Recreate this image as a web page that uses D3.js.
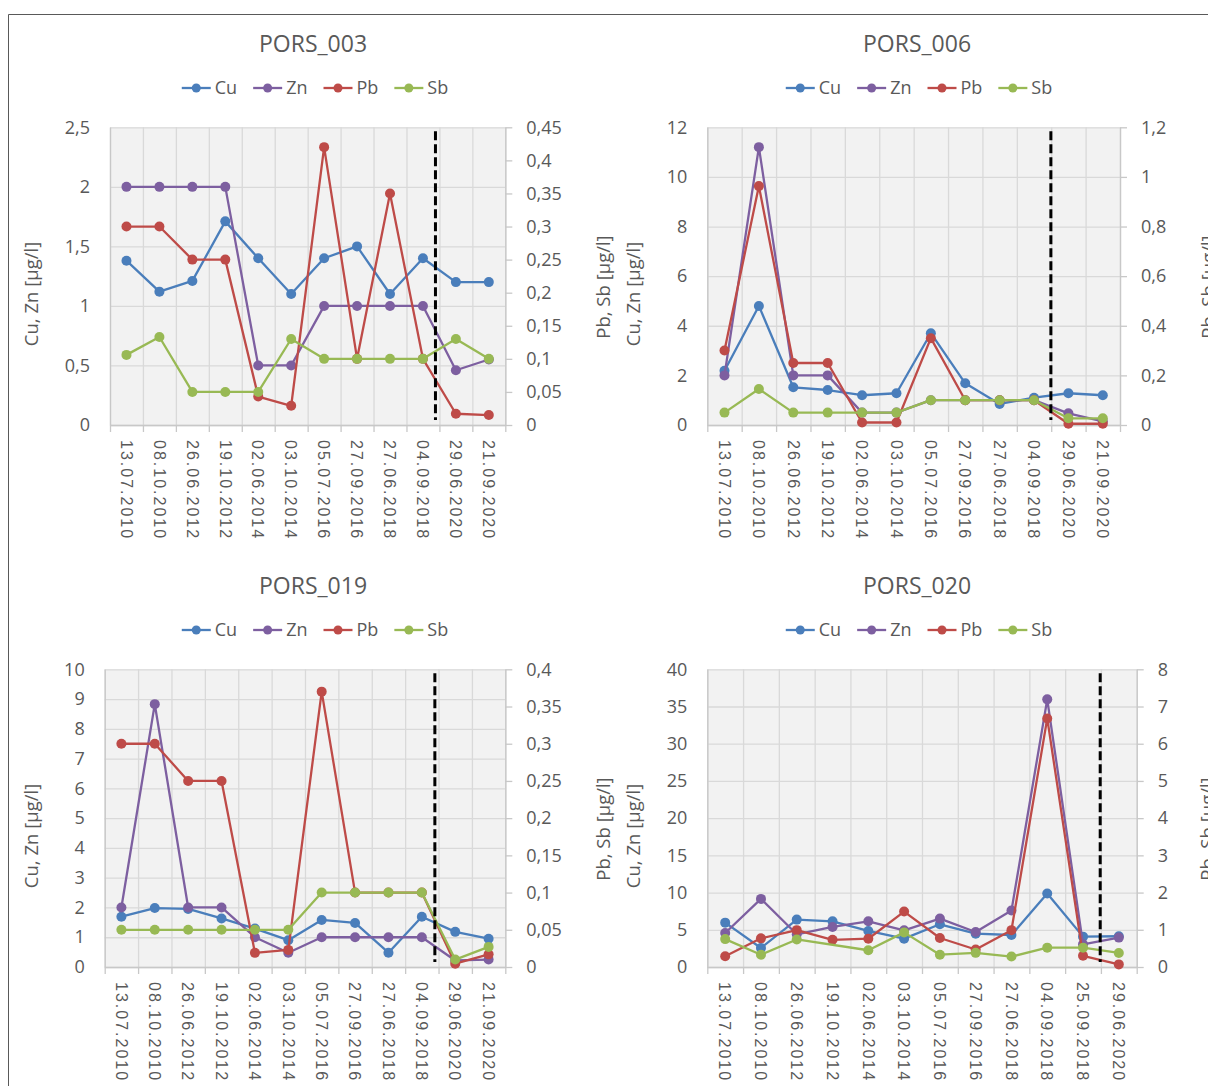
<!DOCTYPE html>
<html>
<head>
<meta charset="utf-8">
<script src="https://cdn.jsdelivr.net/npm/d3@7"></script>
<style>
  body { margin: 0; background: #fff; }
  svg text { font-family: "Open Sans", sans-serif; fill: #595959; }
</style>
</head>
<body>
<svg id="chart" width="1208" height="1086"></svg>
<script>
// sampling dates
const dates = ['13.07.2010', '08.10.2010', '26.06.2012', '19.10.2012', '02.06.2014', '03.10.2014',
  '05.07.2016', '27.09.2016', '27.06.2018', '04.09.2018', '29.06.2020', '21.09.2020']
const dates020 = ['13.07.2010', '08.10.2010', '26.06.2012', '19.10.2012', '02.06.2014', '03.10.2014',
  '05.07.2016', '27.09.2016', '27.06.2018', '04.09.2018', '25.09.2018', '29.06.2020']

const elements = ['Cu', 'Zn', 'Pb', 'Sb']
const colors = ['#4a7ebb', '#7d5fa0', '#be4b48', '#98b954']

// PORS_003
const cu003 = [1.38, 1.12, 1.21, 1.71, 1.4, 1.1, 1.4, 1.5, 1.1, 1.4, 1.2, 1.2]
const zn003 = [2, 2, 2, 2, 0.5, 0.5, 1, 1, 1, 1, 0.46, 0.55]
const pb003 = [0.3, 0.3, 0.25, 0.25, 0.043, 0.029, 0.42, 0.1, 0.35, 0.1, 0.017, 0.015]
const sb003 = [0.106, 0.133, 0.05, 0.05, 0.05, 0.13, 0.1, 0.1, 0.1, 0.1, 0.13, 0.1]

// PORS_006
const cu006 = [2.19, 4.8, 1.52, 1.41, 1.2, 1.28, 3.7, 1.68, 0.85, 1.1, 1.28, 1.2]
const zn006 = [2, 11.2, 2, 2, 0.5, 0.5, 1, 1, 1, 1, 0.47, 0.15]
const pb006 = [0.3, 0.963, 0.25, 0.25, 0.01, 0.01, 0.35, 0.1, 0.1, 0.1, 0.005, 0.005]
const sb006 = [0.05, 0.145, 0.05, 0.05, 0.05, 0.05, 0.1, 0.1, 0.1, 0.1, 0.027, 0.027]

// PORS_019
const cu019 = [1.69, 1.98, 1.95, 1.63, 1.29, 0.9, 1.58, 1.48, 0.48, 1.69, 1.18, 0.95]
const zn019 = [2, 8.83, 2, 2, 1, 0.48, 1, 1, 1, 1, 0.22, 0.25]
const pb019 = [0.3, 0.3, 0.25, 0.25, 0.019, 0.023, 0.37, 0.1, 0.1, 0.1, 0.0045, 0.017]
const sb019 = [0.05, 0.05, 0.05, 0.05, 0.05, 0.05, 0.1, 0.1, 0.1, 0.1, 0.01, 0.027]

// PORS_020 (Sb missing on 19.10.2012)
const cu020 = [5.96, 2.56, 6.37, 6.14, 4.84, 3.81, 5.74, 4.48, 4.3, 9.87, 4.08, 4.13]
const zn020 = [4.57, 9.15, 4.4, 5.38, 6.14, 4.93, 6.5, 4.7, 7.58, 35.96, 3.05, 3.95]
const pb020 = [0.29, 0.77, 0.99, 0.73, 0.76, 1.49, 0.78, 0.47, 0.99, 6.68, 0.3, 0.07]
const sb020 = [0.75, 0.33, 0.74, null, 0.45, 0.93, 0.33, 0.38, 0.28, 0.52, 0.52, 0.377]

// axis ticks
const left003 = [0, 0.5, 1, 1.5, 2, 2.5]
const right003 = [0, 0.05, 0.1, 0.15, 0.2, 0.25, 0.3, 0.35, 0.4, 0.45]
const left006 = [0, 2, 4, 6, 8, 10, 12]
const right006 = [0, 0.2, 0.4, 0.6, 0.8, 1, 1.2]
const left019 = [0, 1, 2, 3, 4, 5, 6, 7, 8, 9, 10]
const right019 = [0, 0.05, 0.1, 0.15, 0.2, 0.25, 0.3, 0.35, 0.4]
const left020 = [0, 5, 10, 15, 20, 25, 30, 35, 40]
const right020 = [0, 1, 2, 3, 4, 5, 6, 7, 8]

const panels = [
  {title: 'PORS_003', cats: dates, series: [cu003, zn003, pb003, sb003], left: left003, right: right003,
   cx: 313, row: 0, plotL: 110, plotR: 505.3, cut: 9.88, leftTitleX: 32, rightTitleX: 604},
  {title: 'PORS_006', cats: dates, series: [cu006, zn006, pb006, sb006], left: left006, right: right006,
   cx: 917, row: 0, plotL: 707.3, plotR: 1120, cut: 9.99, leftTitleX: 634, rightTitleX: 1209},
  {title: 'PORS_019', cats: dates, series: [cu019, zn019, pb019, sb019], left: left019, right: right019,
   cx: 313, row: 1, plotL: 104.7, plotR: 505.3, cut: 9.89, leftTitleX: 32, rightTitleX: 604},
  {title: 'PORS_020', cats: dates020, series: [cu020, zn020, pb020, sb020], left: left020, right: right020,
   cx: 917, row: 1, plotL: 707.3, plotR: 1136.7, cut: 10.98, leftTitleX: 634, rightTitleX: 1208},
]

const rowStep = 542
const fmt = v => String(+v.toFixed(2)).replace('.', ',')

const svg = d3.select('#chart')

// outer frame (only top and left edges are visible in the crop)
svg.append('path')
  .attr('d', 'M8.5,1086 V14.5 H1208')
  .attr('fill', 'none')
  .attr('stroke', '#595959')
  .attr('stroke-width', 1)

panels.forEach(p => drawPanel(p))

function drawPanel(p) {
  let dy = p.row * rowStep
  let top = 127.3 + dy
  let bottom = 425 + dy
  let n = p.cats.length
  let g = svg.append('g')

  let x = d3.scaleBand().domain(d3.range(n)).range([p.plotL, p.plotR])
  let xEdge = d3.scaleLinear().domain([0, n]).range([p.plotL, p.plotR])
  let yL = d3.scaleLinear().domain([0, d3.max(p.left)]).range([bottom, top])
  let yR = d3.scaleLinear().domain([0, d3.max(p.right)]).range([bottom, top])

  // plot background
  g.append('rect')
    .attr('x', p.plotL).attr('y', top)
    .attr('width', p.plotR - p.plotL).attr('height', bottom - top)
    .attr('fill', '#f2f2f2')

  // horizontal gridlines
  g.append('g')
    .attr('transform', `translate(${p.plotL},0)`)
    .call(d3.axisLeft(yL).tickValues(p.left).tickSize(-(p.plotR - p.plotL)).tickFormat(''))
    .call(a => a.select('.domain').remove())
    .call(a => a.selectAll('line').attr('stroke', '#d9d9d9').attr('stroke-width', 1.3))

  // vertical gridlines
  g.append('g')
    .attr('transform', `translate(0,${bottom})`)
    .call(d3.axisBottom(xEdge).tickValues(d3.range(n + 1)).tickSize(-(bottom - top)).tickFormat(''))
    .call(a => a.select('.domain').remove())
    .call(a => a.selectAll('line').attr('stroke', '#d9d9d9').attr('stroke-width', 1.3))

  // bottom axis line + outer ticks
  g.append('g')
    .attr('transform', `translate(0,${bottom})`)
    .call(d3.axisBottom(xEdge).tickValues(d3.range(n + 1)).tickSize(7).tickSizeOuter(0).tickFormat(''))
    .call(a => a.selectAll('line, .domain').attr('stroke', '#c8c8c8').attr('stroke-width', 1.3))

  // category labels
  g.append('g')
    .attr('transform', `translate(0,${bottom})`)
    .call(d3.axisBottom(x).tickSize(0).tickFormat(i => p.cats[i]))
    .call(a => a.select('.domain').remove())
    .call(a => a.selectAll('text')
      .attr('transform', 'rotate(90)')
      .attr('x', 15).attr('y', 0).attr('dy', '0.36em')
      .style('text-anchor', 'start')
      .style('font-family', '"Liberation Sans", Arial, sans-serif')
      .style('font-size', '16px')
      .style('letter-spacing', '2px')
      .attr('fill', '#595959'))

  // left axis labels
  g.append('g')
    .attr('transform', `translate(${p.plotL},0)`)
    .call(d3.axisLeft(yL).tickValues(p.left).tickSize(0).tickPadding(20).tickFormat(fmt))
    .call(a => a.select('.domain').attr('stroke', '#c8c8c8').attr('stroke-width', 1.3))
    .call(a => a.selectAll('text').style('font-size', '18px').attr('fill', '#595959'))

  // right axis
  g.append('g')
    .attr('transform', `translate(${p.plotR},0)`)
    .call(d3.axisRight(yR).tickValues(p.right).tickSize(7).tickSizeOuter(0).tickPadding(14).tickFormat(fmt))
    .call(a => a.selectAll('line, .domain').attr('stroke', '#c8c8c8').attr('stroke-width', 1.3))
    .call(a => a.selectAll('text').style('font-size', '18px').attr('fill', '#595959'))

  // axis titles
  g.append('text')
    .attr('transform', `translate(${p.leftTitleX},${294 + dy}) rotate(-90)`)
    .attr('text-anchor', 'middle').attr('dy', '0.35em')
    .style('font-size', '18.5px')
    .text('Cu, Zn [µg/l]')
  g.append('text')
    .attr('transform', `translate(${p.rightTitleX},${287 + dy}) rotate(-90)`)
    .attr('text-anchor', 'middle').attr('dy', '0.35em')
    .style('font-size', '18.5px')
    .text('Pb, Sb [µg/l]')

  // chart title
  g.append('text')
    .attr('x', p.cx).attr('y', 52 + dy)
    .attr('text-anchor', 'middle')
    .style('font-size', '23px')
    .text(p.title)

  // series
  p.series.forEach((values, k) => {
    let y = k < 2 ? yL : yR
    let pts = values.map((v, i) => ({i, v})).filter(d => d.v != null)
    let line = d3.line().x(d => x(d.i) + x.bandwidth() / 2).y(d => y(d.v))
    g.append('path')
      .datum(pts)
      .attr('d', line)
      .attr('fill', 'none')
      .attr('stroke', colors[k])
      .attr('stroke-width', 2.3)
      .attr('stroke-linejoin', 'round')
    g.selectAll(null)
      .data(pts)
      .enter()
      .append('circle')
      .attr('cx', d => x(d.i) + x.bandwidth() / 2)
      .attr('cy', d => y(d.v))
      .attr('r', 5)
      .attr('fill', colors[k])
  })

  // dashed divider
  g.append('line')
    .attr('x1', xEdge(p.cut)).attr('x2', xEdge(p.cut))
    .attr('y1', top + 4).attr('y2', bottom - 5)
    .attr('stroke', '#000')
    .attr('stroke-width', 3)
    .attr('stroke-dasharray', '9,4')

  // legend
  let lg = g.append('g')
  let cursor = 0
  elements.forEach((name, k) => {
    let item = lg.append('g').attr('transform', `translate(${cursor},0)`)
    item.append('line').attr('x1', 0).attr('x2', 29).attr('stroke', colors[k]).attr('stroke-width', 2.3)
    item.append('circle').attr('cx', 14.5).attr('r', 4.5).attr('fill', colors[k])
    let t = item.append('text').attr('x', 33).attr('dy', '0.36em').style('font-size', '18px').text(name)
    cursor += 33 + t.node().getComputedTextLength() + 16
  })
  cursor -= 16
  lg.attr('transform', `translate(${p.cx + 2 - cursor / 2},${88 + dy})`)
}
</script>
</body>
</html>
